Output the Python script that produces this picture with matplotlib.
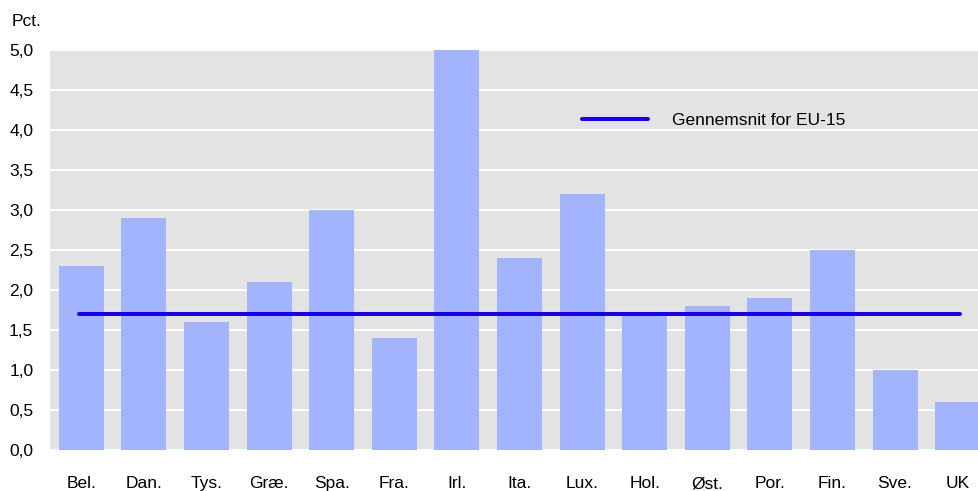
import numpy as np
import matplotlib.pyplot as plt
from matplotlib.ticker import MultipleLocator, FuncFormatter

# Land og vækst (pct.)
lande = ['Bel.', 'Dan.', 'Tys.', 'Græ.', 'Spa.', 'Fra.', 'Irl.', 'Ita.',
         'Lux.', 'Hol.', 'Øst.', 'Por.', 'Fin.', 'Sve.', 'UK']
vaerdier = [2.3, 2.9, 1.6, 2.1, 3.0, 1.4, 5.0, 2.4, 3.2, 1.7, 1.8, 1.9, 2.5, 1.0, 0.6]
eu15_snit = 1.7

plt.rcParams['font.family'] = ['Liberation Sans', 'DejaVu Sans']

fig = plt.figure(figsize=(9.79, 4.91), dpi=100)
ax = fig.add_axes([50 / 979, 41 / 491, 929 / 979, 400 / 491])

x = np.arange(len(lande))
ax.set_facecolor('#e3e3e3')
ax.bar(x, vaerdier, width=0.72, color='#a3b4ff', zorder=2)
ax.plot([x[0] - 0.03, x[-1] + 0.03], [eu15_snit, eu15_snit], color='#1a00e0',
        lw=2.9, solid_capstyle='round', zorder=3, label='Gennemsnit for EU-15')

ax.set_xlim(-0.5, 14.34)
ax.set_ylim(0, 5.0)
ax.yaxis.set_major_locator(MultipleLocator(0.5))
ax.yaxis.set_major_formatter(FuncFormatter(lambda v, p: f'{v:.1f}'.replace('.', ',')))
ax.grid(axis='y', color='white', lw=1.5, zorder=1)
ax.set_axisbelow(True)
for s in ax.spines.values():
    s.set_visible(False)

ax.set_xticks(x)
ax.set_xticklabels(lande)
ax.tick_params(axis='x', length=0, pad=19, labelsize=12.5)
ax.tick_params(axis='y', length=0, pad=12, labelsize=12.5)

ax.legend(loc='center left', bbox_to_anchor=(0.5727, 0.825), frameon=False,
          borderpad=0, borderaxespad=0, handlelength=3.8, handletextpad=1.4,
          fontsize=12.5)

fig.text(12 / 979, 1 - 22 / 491, 'Pct.', fontsize=12.5, va='center', ha='left')

fig.savefig('out.png', dpi=100)
